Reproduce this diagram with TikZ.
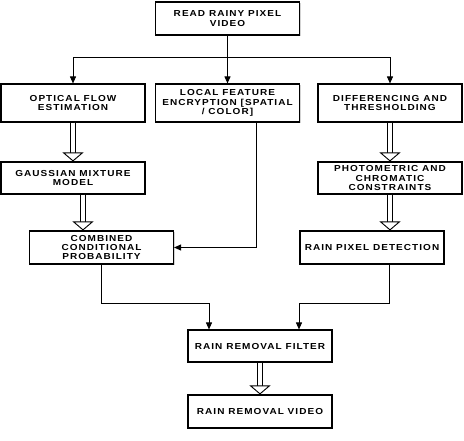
\documentclass[tikz,border=0pt]{standalone}
\usepackage{fontspec}
\setmainfont{Liberation Sans}[FakeStretch=1.15,LetterSpace=12]
\usetikzlibrary{arrows.meta,shadows}
\begin{document}
\begin{tikzpicture}[x=1pt,y=-1pt,
    stage/.style={draw,line width=1.1pt,fill=white,
      drop shadow={shadow xshift=1pt,shadow yshift=-1.2pt,opacity=0.35},
      align=center,inner sep=0pt,minimum width=144pt,minimum height=33pt,
      font=\bfseries\fontsize{8.7}{9.2}\selectfont},
    arr/.style={line width=0.9pt,-{Triangle[length=7pt,width=6pt]}},
    dbl/.style={line width=1pt,double,double distance=3.4pt,
      -{Triangle[open,fill=white,length=9pt,width=21pt,line width=0.9pt]}}]
  \useasboundingbox (0,0) rectangle (464,440);
  % top
  \node[stage] (read) at (227.5,18.5) {READ RAINY PIXEL\\VIDEO};
  % three branches
  \node[stage,minimum height=38pt] (optical) at (73,103) {OPTICAL FLOW\\ESTIMATION};
  \node[stage,minimum height=38pt] (local) at (227.5,103) {LOCAL FEATURE\\ENCRYPTION [SPATIAL\\/ COLOR]};
  \node[stage,minimum height=38pt] (diff) at (390,103) {DIFFERENCING AND\\THRESHOLDING};
  \node[stage,minimum height=32pt] (gauss) at (73,178) {GAUSSIAN MIXTURE\\MODEL};
  \node[stage,minimum height=32pt] (photo) at (390,178) {PHOTOMETRIC AND\\CHROMATIC\\CONSTRAINTS};
  \node[stage] (comb) at (101.5,247.5) {COMBINED\\CONDITIONAL\\PROBABILITY};
  \node[stage] (rpd) at (372,247.5) {RAIN PIXEL DETECTION};
  % output
  \node[stage,minimum height=32pt] (filter) at (260,346) {RAIN REMOVAL FILTER};
  \node[stage] (video) at (260,411.5) {RAIN REMOVAL VIDEO};
  \coordinate (split) at (227.5,57);
  \draw[line width=0.9pt] (read.south) -- (split);
  \draw[arr] (split) -- (local.north);
  \draw[arr] (split) -| (optical.north);
  \draw[arr] (split) -| (diff.north);
  \draw[dbl] (optical.south) -- (gauss.north);
  \draw[dbl] ([xshift=10pt]gauss.south) -- ([xshift=10pt]gauss.south |- comb.north);
  \draw[dbl] (diff.south) -- (photo.north);
  \draw[dbl] (photo.south) -- (photo.south |- rpd.north);
  \draw[arr] ([xshift=28.5pt]local.south) |- (comb.east);
  \draw[arr] (comb.south) -- ++(0,39) -| ([xshift=-51pt]filter.north);
  \draw[arr] ([xshift=17pt]rpd.south) -- ++(0,39) -| ([xshift=39pt]filter.north);
  \draw[dbl] (filter.south) -- (video.north);
\end{tikzpicture}
\end{document}
